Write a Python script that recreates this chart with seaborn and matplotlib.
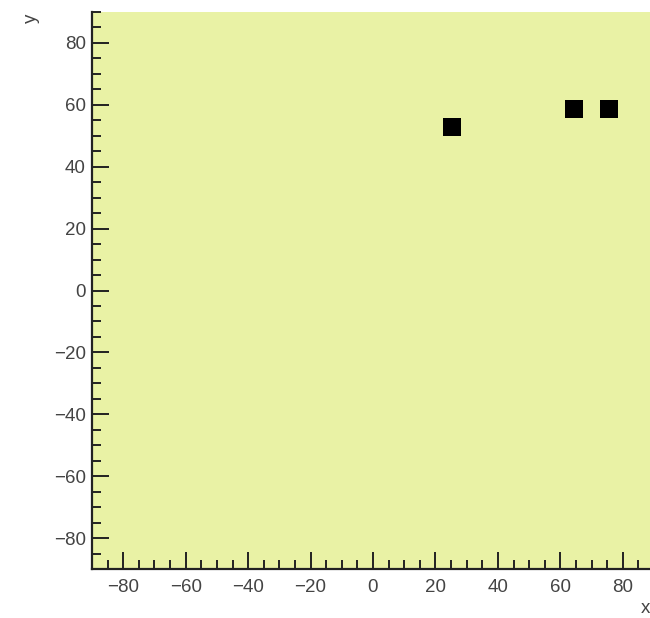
import matplotlib
matplotlib.use("Agg")
import matplotlib.pyplot as plt
from matplotlib.ticker import MultipleLocator
import seaborn as sns
import pandas as pd

# points
x_vals = [25.2, 64.3, 75.6]
y_vals = [52.9, 58.6, 58.6]

sns.set_style("ticks")
plt.rcParams['font.family'] = ['Liberation Sans', 'DejaVu Sans']

df = pd.DataFrame({"x": x_vals, "y": y_vals})

fig = plt.figure(figsize=(6.5, 6.18), dpi=100)
ax = fig.add_axes([92 / 650, 49 / 618, 562 / 650, 557 / 618])
ax.set_facecolor("#e9f2a5")

sns.scatterplot(data=df, x="x", y="y", marker="s", s=175, color="black",
                linewidth=0, ax=ax, zorder=3)

ax.set_xlim(-90, 90)
ax.set_ylim(-90, 90)
ax.xaxis.set_major_locator(MultipleLocator(20))
ax.xaxis.set_minor_locator(MultipleLocator(5))
ax.yaxis.set_major_locator(MultipleLocator(20))
ax.yaxis.set_minor_locator(MultipleLocator(5))

ax.tick_params(axis="both", which="both", direction="in", color="#222222",
               width=1.4, labelsize=13.5, labelcolor="#444444")
ax.tick_params(axis="both", which="major", length=12)
ax.tick_params(axis="both", which="minor", length=6.5)
ax.tick_params(axis="x", which="major", pad=7.5)
ax.tick_params(axis="y", which="major", pad=4.5)

for side in ["top", "right"]:
    ax.spines[side].set_visible(False)
for side in ["left", "bottom"]:
    ax.spines[side].set_linewidth(1.6)
    ax.spines[side].set_color("#222222")

ax.set_xlabel("x", fontsize=13.5, color="#444444")
ax.set_ylabel("y", fontsize=13.5, color="#444444")
ax.xaxis.set_label_coords(0.984, -0.055)
ax.yaxis.set_label_coords(-0.093, 0.989)

fig.savefig("out.png", dpi=100)
